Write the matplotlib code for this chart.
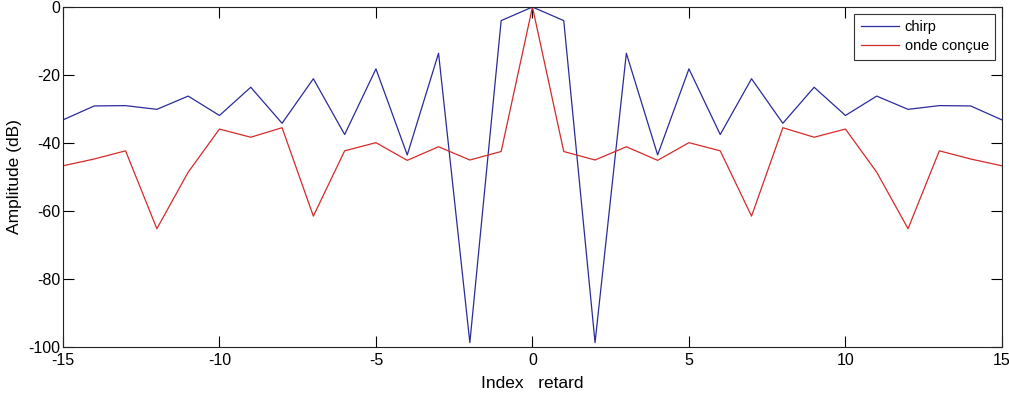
import matplotlib
matplotlib.use("Agg")
import matplotlib.pyplot as plt

plt.rcParams["axes.unicode_minus"] = False

# Delay indices and correlation levels (dB)
delay_index = list(range(-15, 16))
chirp_db = [-33.2, -29.1, -29.0, -30.1, -26.2, -31.9, -23.6, -34.2, -21.1, -37.5,
            -18.2, -43.5, -13.6, -98.7, -4.0, 0.0, -4.0, -98.7, -13.6, -43.5,
            -18.2, -37.5, -21.1, -34.2, -23.6, -31.9, -26.2, -30.1, -29.0, -29.1, -33.2]
designed_db = [-46.7, -44.7, -42.3, -65.2, -48.6, -35.9, -38.3, -35.5, -61.5, -42.3,
               -39.9, -45.1, -41.1, -45.0, -42.5, 0.0, -42.5, -45.0, -41.1, -45.1,
               -39.9, -42.3, -61.5, -35.5, -38.3, -35.9, -48.6, -65.2, -42.3, -44.7, -46.7]
series_names = ["chirp", "onde conçue"]
x_ticks = [-15, -10, -5, 0, 5, 10, 15]
y_ticks = [-100, -80, -60, -40, -20, 0]

fig = plt.figure(figsize=(10.09, 3.96), dpi=100)
ax = fig.add_axes([0.0624, 0.1237, 0.9306, 0.8586])

ax.plot(delay_index, chirp_db, color="#2b2b9a", lw=0.9, label=series_names[0])
ax.plot(delay_index, designed_db, color="#d42a2a", lw=0.9, label=series_names[1])

ax.set_xlim(-15, 15)
ax.set_ylim(-100, 0)
ax.set_xticks(x_ticks)
ax.set_yticks(y_ticks)
ax.tick_params(direction="in", length=8, width=0.8, top=True, right=True,
               labelsize=11.5, pad=2)
ax.tick_params(axis="x", pad=4)
for lbl in ax.get_xticklabels() + ax.get_yticklabels():
    lbl.set_fontfamily("Liberation Sans")
for sp in ax.spines.values():
    sp.set_linewidth(0.8)
    sp.set_color("#222222")

ax.set_xlabel("Index   retard", fontsize=12.5, family="Liberation Sans")
ax.set_ylabel("Amplitude (dB)", fontsize=12.5, family="Liberation Sans")
ax.xaxis.set_label_coords(0.5, -0.085, transform=ax.transAxes)
ax.yaxis.set_label_coords(-0.044, 0.5, transform=ax.transAxes)

leg = ax.legend(loc="upper right", prop={"family": "Liberation Sans", "size": 10.5},
                fancybox=False, framealpha=1, edgecolor="#333333",
                handlelength=2.6, borderaxespad=0.45, labelspacing=0.35,
                handletextpad=0.4, borderpad=0.45)
leg.get_frame().set_linewidth(0.8)

fig.savefig("out.png", dpi=100)
